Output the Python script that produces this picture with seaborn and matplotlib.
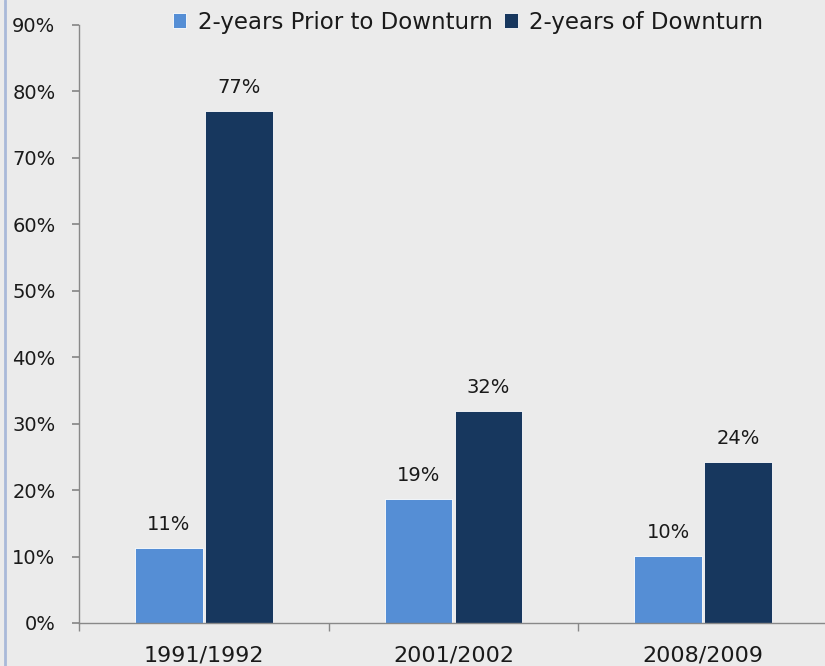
import pandas as pd
import matplotlib
matplotlib.use("Agg")
import matplotlib.pyplot as plt
import seaborn as sns
from matplotlib.lines import Line2D
from matplotlib.ticker import FixedLocator

# Data
periods = ["1991/1992", "2001/2002", "2008/2009"]
prior = [11.3, 18.7, 10.1]
downturn = [77.0, 31.9, 24.2]
series = ["2-years Prior to Downturn", "2-years of Downturn"]

df = pd.DataFrame({
    "period": periods * 2,
    "value": prior + downturn,
    "series": [series[0]] * 3 + [series[1]] * 3,
})

bg = "#EBEBEB"
sns.set_theme(style="white", rc={"axes.facecolor": bg, "figure.facecolor": bg})
plt.rcParams["font.family"] = ["DejaVu Sans"]

fig = plt.figure(figsize=(8.25, 6.66), dpi=100)
ax = fig.add_axes([79 / 825, 43 / 666, 749 / 825, 598 / 666])

sns.barplot(data=df, x="period", y="value", hue="series", order=periods,
            hue_order=series, palette=["#558ED5", "#17375E"],
            width=0.56, gap=0.03, edgecolor="white", linewidth=0.6,
            saturation=1, ax=ax)

# value labels
for cont in ax.containers:
    ax.bar_label(cont, labels=[f"{round(v.get_height()):.0f}%" for v in cont],
                 padding=10, fontsize=14, color="#1a1a1a")

ax.set_ylim(0, 90)
ax.set_xlim(-0.5, 2.5)
ax.set_yticks(range(0, 91, 10))
ax.set_yticklabels([f"{t}%" for t in range(0, 91, 10)])
ax.set_xlabel("")
ax.set_ylabel("")

ax.xaxis.set_minor_locator(FixedLocator([-0.5, 0.5, 1.5, 2.5]))
ax.tick_params(axis="x", which="major", length=0, pad=16, labelsize=16, colors="#1a1a1a")
ax.tick_params(axis="x", which="minor", length=6, direction="out", color="#888888", bottom=True)
ax.tick_params(axis="y", which="major", length=5, direction="out", pad=12,
               labelsize=14, color="#888888", labelcolor="#1a1a1a", left=True)

for s in ["top", "right"]:
    ax.spines[s].set_visible(False)
for s in ["left", "bottom"]:
    ax.spines[s].set_color("#888888")
    ax.spines[s].set_linewidth(1)
ax.spines["bottom"].set_clip_on(False)

leg = ax.legend(loc="center", bbox_to_anchor=(468 / 825, 1 - 22 / 666),
                bbox_transform=fig.transFigure, ncol=2, frameon=False,
                fontsize=16.5, handlelength=0.6, handleheight=0.6,
                handletextpad=0.5, columnspacing=0.5)
for t in leg.get_texts():
    t.set_color("#1a1a1a")

# thin border line on the left edge
fig.add_artist(Line2D([5 / 825, 5 / 825], [0, 1], transform=fig.transFigure,
                      color="#A9B9D9", linewidth=2))

fig.savefig("out.png", dpi=100, facecolor=bg)
